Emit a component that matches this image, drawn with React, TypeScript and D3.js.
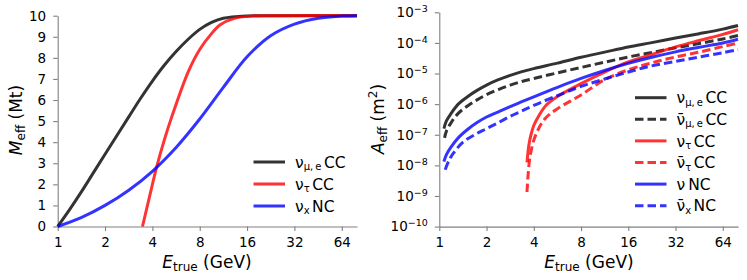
import React, { useRef, useEffect } from "react";
import * as d3 from "d3";

// left panel: effective mass (Mt) vs true energy (GeV)
const massEnergyMuE = [1, 1.19, 1.41, 1.68, 2, 2.38, 2.83, 3.36, 4, 4.76, 5.66, 6.73, 8, 9.51, 11.3, 16, 22.6, 80];
const massMuE = [0, 0.8, 1.63, 2.53, 3.43, 4.32, 5.2, 6.07, 6.9, 7.65, 8.3, 8.87, 9.35, 9.68, 9.88, 9.99, 10, 10];
const massEnergyTau = [3.46, 3.86, 4.26, 4.76, 5.31, 6.77, 8, 9.51, 10.8, 13.1, 16.7, 22.6, 80];
const massTau = [0, 1.5, 2.83, 4.1, 5.2, 7.35, 8.4, 9.15, 9.57, 9.86, 9.98, 10, 10];
const massEnergyNC = [1, 1.41, 2, 2.83, 4, 5.66, 8, 11.3, 16, 22.6, 32, 45.3, 64, 80];
const massNC = [0, 0.42, 1.0, 1.72, 2.62, 3.75, 5.1, 6.6, 8.05, 9.05, 9.6, 9.88, 9.98, 10];

// right panel: effective area (m^2) vs true energy (GeV)
const areaEnergyMuE = [1.07, 1.11, 1.19, 1.32, 1.52, 1.74, 2, 2.38, 2.83, 3.36, 4, 5.66, 8, 11.3, 16, 22.6, 32, 45.3, 64, 80];
const areaMuE = [1.58e-7, 2.82e-7, 5.0e-7, 1.0e-6, 1.78e-6, 2.82e-6, 4.2e-6, 6.3e-6, 8.7e-6, 1.15e-5, 1.45e-5, 2.19e-5, 3.39e-5, 5.0e-5, 7.4e-5, 1.02e-4, 1.45e-4, 2.0e-4, 2.82e-4, 3.7e-4];
const areaEnergyMuEBar = [1.08, 1.11, 1.19, 1.32, 1.52, 1.74, 2, 2.38, 2.83, 3.36, 4, 5.66, 8, 11.3, 16, 22.6, 32, 45.3, 64, 80];
const areaMuEBar = [7.9e-8, 1.32e-7, 2.5e-7, 5.0e-7, 8.9e-7, 1.38e-6, 2.04e-6, 3.0e-6, 4.2e-6, 5.5e-6, 6.9e-6, 1.05e-5, 1.58e-5, 2.34e-5, 3.47e-5, 4.9e-5, 6.9e-5, 9.5e-5, 1.35e-4, 1.74e-4];
const areaEnergyTau = [3.62, 3.73, 3.86, 4, 4.29, 4.76, 5.66, 8, 11.3, 16, 22.6, 32, 45.3, 64, 80];
const areaTau = [1.26e-8, 5.0e-8, 1.12e-7, 2.0e-7, 4.0e-7, 8.9e-7, 1.78e-6, 4.7e-6, 1.12e-5, 2.4e-5, 4.2e-5, 7.4e-5, 1.2e-4, 1.9e-4, 2.7e-4];
const areaEnergyTauBar = [3.62, 3.68, 3.78, 4, 4.29, 4.76, 5.66, 8, 11.3, 16, 22.6, 32, 45.3, 64, 80];
const areaTauBar = [1.35e-9, 5.0e-9, 1.86e-8, 6.6e-8, 1.58e-7, 3.55e-7, 7.1e-7, 2.0e-6, 6.3e-6, 1.32e-5, 2.24e-5, 3.47e-5, 5.0e-5, 7.6e-5, 9.8e-5];
const areaEnergyNC = [1.07, 1.11, 1.19, 1.32, 1.52, 1.74, 2, 2.38, 2.83, 3.36, 4, 5.66, 8, 11.3, 16, 22.6, 32, 45.3, 64, 80];
const areaNC = [1.32e-8, 2.24e-8, 4.0e-8, 7.9e-8, 1.51e-7, 2.5e-7, 3.8e-7, 5.6e-7, 8.3e-7, 1.2e-6, 1.74e-6, 3.55e-6, 6.9e-6, 1.26e-5, 2.14e-5, 3.39e-5, 5.1e-5, 7.2e-5, 1.0e-4, 1.32e-4];
const areaEnergyNCBar = [1.09, 1.15, 1.23, 1.41, 1.68, 2, 2.38, 2.83, 3.36, 4, 5.66, 8, 11.3, 16, 22.6, 32, 45.3, 64, 80];
const areaNCBar = [7.2e-9, 1.41e-8, 2.5e-8, 5.6e-8, 1.0e-7, 1.58e-7, 2.5e-7, 4.0e-7, 6.0e-7, 9.1e-7, 1.9e-6, 3.8e-6, 6.6e-6, 1.12e-5, 1.78e-5, 2.5e-5, 3.47e-5, 4.8e-5, 6.0e-5];

const energyTicks = [1, 2, 4, 8, 16, 32, 64];
const massTicks = [0, 1, 2, 3, 4, 5, 6, 7, 8, 9, 10];
const areaTicks = [1e-10, 1e-9, 1e-8, 1e-7, 1e-6, 1e-5, 1e-4, 1e-3];

const BLACK = "#000000";
const RED = "#ff0000";
const BLUE = "#0000ff";
const FONT = "DejaVu Sans, sans-serif";
const SPINE = "#808080";
const DASH = "8.5,4";

const xLeft = d3.scaleLog().base(2).domain([1, 80]).range([57.7, 357]);
const yLeft = d3.scaleLinear().domain([0, 10]).range([226.5, 15.7]);
const xRight = d3.scaleLog().base(2).domain([1, 80]).range([439.3, 738]);
const yRight = d3.scaleLog().domain([1e-10, 1e-3]).range([226.6, 12.3]);

const zip = (xs, ys) => xs.map((x, i) => [x, ys[i]]);

const styleAxis = (g) => {
	g.select(".domain").attr("stroke", SPINE).attr("stroke-width", 1.1);
	g.selectAll(".tick line").attr("stroke", SPINE).attr("stroke-width", 1.1);
	g.selectAll(".tick text").attr("fill", "#000").attr("font-size", 13.5).attr("font-family", FONT);
	g.attr("font-family", FONT);
};

const Legend = ({ x, y, rows, gap }) => (
	<g transform={`translate(${x}, ${y})`}>
		{rows.map((r, i) => (
			<g key={i} transform={`translate(0, ${i * gap})`}>
				<line x1={0} x2={31.5} y1={0} y2={0} stroke={r.color} strokeOpacity={0.8} strokeWidth={3}
					strokeDasharray={r.dash ? DASH : null} />
				<text x={41.5} y={5.6} fontSize={15.5} fontFamily={FONT}>
					<tspan>{r.nu}</tspan>
					{r.sub ? <tspan fontSize={10} dy={2.5}>{r.sub}</tspan> : null}
					<tspan dx={r.sub ? 2.5 : 3} dy={r.sub ? -2.5 : 0}>{r.kind}</tspan>
				</text>
			</g>
		))}
	</g>
);

const AxisTitle = ({ x, y, rotate, sym, sub, unit, sup }) => (
	<text transform={`translate(${x}, ${y})${rotate ? " rotate(-90)" : ""}`} textAnchor="middle" fontSize={17} fontFamily={FONT}>
		<tspan fontStyle="italic">{sym}</tspan>
		<tspan fontSize={12} dy={2.5}>{sub}</tspan>
		<tspan dy={-2.5}>{" (" + unit}</tspan>
		{sup ? <tspan fontSize={12} dy={-7}>{sup}</tspan> : null}
		<tspan dy={sup ? 7 : 0}>)</tspan>
	</text>
);

const App = () => {
	const lx = useRef(null);
	const ly = useRef(null);
	const rx = useRef(null);
	const ry = useRef(null);

	useEffect(() => {
		d3.select(lx.current)
			.call(d3.axisBottom(xLeft).tickValues(energyTicks).tickFormat(d3.format("d")).tickSize(4.5).tickPadding(6).tickSizeOuter(0))
			.call(styleAxis);
		d3.select(ly.current)
			.call(d3.axisLeft(yLeft).tickValues(massTicks).tickFormat(d3.format("d")).tickSize(4.5).tickPadding(7).tickSizeOuter(0))
			.call(styleAxis);
		d3.select(rx.current)
			.call(d3.axisBottom(xRight).tickValues(energyTicks).tickFormat(d3.format("d")).tickSize(4.5).tickPadding(6).tickSizeOuter(0))
			.call(styleAxis);
		const ga = d3.select(ry.current)
			.call(d3.axisLeft(yRight).tickValues(areaTicks).tickFormat(() => "").tickSize(4.5).tickPadding(7).tickSizeOuter(0))
			.call(styleAxis);
		ga.selectAll(".tick text").each(function (d) {
			const t = d3.select(this);
			t.selectAll("tspan").remove();
			t.append("tspan").text("10");
			t.append("tspan").attr("dy", -5).attr("font-size", 9.5).text("\u2212" + Math.round(-Math.log10(d)));
		});
	}, []);

	const curve = d3.curveCatmullRom.alpha(0.5);
	const lineL = d3.line().x(d => xLeft(d[0])).y(d => yLeft(d[1])).curve(curve);
	const lineR = d3.line().x(d => xRight(d[0])).y(d => yRight(d[1])).curve(curve);

	const leftSeries = [
		{ data: zip(massEnergyMuE, massMuE), color: BLACK },
		{ data: zip(massEnergyTau, massTau), color: RED },
		{ data: zip(massEnergyNC, massNC), color: BLUE },
	];
	const rightSeries = [
		{ data: zip(areaEnergyMuE, areaMuE), color: BLACK, dash: false },
		{ data: zip(areaEnergyMuEBar, areaMuEBar), color: BLACK, dash: true },
		{ data: zip(areaEnergyTau, areaTau), color: RED, dash: false },
		{ data: zip(areaEnergyTauBar, areaTauBar), color: RED, dash: true },
		{ data: zip(areaEnergyNC, areaNC), color: BLUE, dash: false },
		{ data: zip(areaEnergyNCBar, areaNCBar), color: BLUE, dash: true },
	];

	return (
		<div style={{ position: "fixed", left: 0, top: 0 }}>
			<svg width={747} height={280} style={{ display: "block", background: "#fff" }}>
				{/* left panel */}
				<g ref={lx} transform={`translate(0, ${yLeft(0)})`} />
				<g ref={ly} transform={`translate(${xLeft(1)}, 0)`} />
				{leftSeries.map((s, i) => (
					<path key={i} d={lineL(s.data)} fill="none" stroke={s.color} strokeOpacity={0.8} strokeWidth={3} />
				))}
				<AxisTitle x={22} y={120} rotate sym="M" sub="eff" unit="Mt" />
				<AxisTitle x={207} y={268} sym="E" sub="true" unit="GeV" />
				<Legend x={253.5} y={162} gap={22} rows={[
					{ color: BLACK, nu: "\u03bd", sub: "\u03bc,\u2009e", kind: "CC" },
					{ color: RED, nu: "\u03bd", sub: "\u03c4", kind: "CC" },
					{ color: BLUE, nu: "\u03bd", sub: "x", kind: "NC" },
				]} />

				{/* right panel */}
				<g ref={rx} transform={`translate(0, ${yRight(1e-10)})`} />
				<g ref={ry} transform={`translate(${xRight(1)}, 0)`} />
				{rightSeries.map((s, i) => (
					<path key={i} d={lineR(s.data)} fill="none" stroke={s.color} strokeOpacity={0.8} strokeWidth={3}
						strokeDasharray={s.dash ? DASH : null} />
				))}
				<AxisTitle x={384} y={119} rotate sym="A" sub="eff" unit="m" sup="2" />
				<AxisTitle x={589} y={268} sym="E" sub="true" unit="GeV" />
				<Legend x={635} y={97.7} gap={21.6} rows={[
					{ color: BLACK, nu: "\u03bd", sub: "\u03bc,\u2009e", kind: "CC" },
					{ color: BLACK, nu: "\u03bd\u0304", sub: "\u03bc,\u2009e", kind: "CC", dash: true },
					{ color: RED, nu: "\u03bd", sub: "\u03c4", kind: "CC" },
					{ color: RED, nu: "\u03bd\u0304", sub: "\u03c4", kind: "CC", dash: true },
					{ color: BLUE, nu: "\u03bd", sub: "", kind: "NC" },
					{ color: BLUE, nu: "\u03bd\u0304", sub: "x", kind: "NC", dash: true },
				]} />
			</svg>
		</div>
	);
};

export default App;
